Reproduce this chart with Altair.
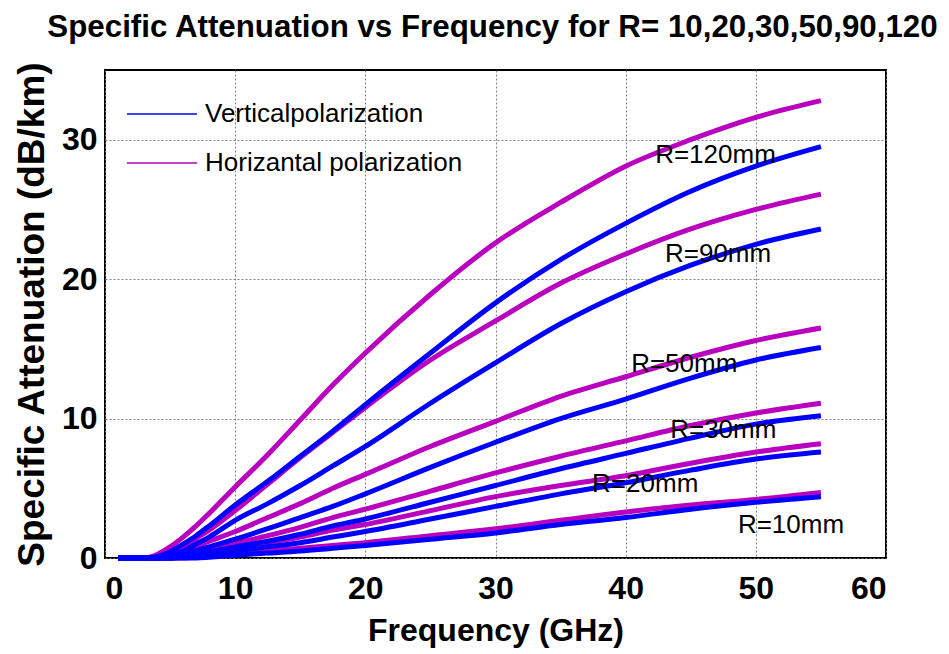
import altair as alt
import pandas as pd

# Frequency samples (GHz)
freq = [1, 3, 4, 5, 6, 7, 8, 10, 12.5, 15, 17.5, 20, 25, 30, 35, 40, 45, 50, 55]

# Specific attenuation (dB/km), horizontal polarization, per rain rate
h120 = [0, 0, 0.25, 0.8, 1.5, 2.3, 3.2, 5.1, 7.4, 9.9, 12.4, 14.7, 18.9, 22.6, 25.5, 28.1, 30.0, 31.6, 32.8]
h90 = [0, 0, 0.05, 0.35, 0.8, 1.4, 2.0, 3.4, 5.3, 7.2, 9.0, 10.8, 14.2, 17.0, 19.7, 21.8, 23.6, 25.0, 26.1]
h50 = [0, 0, 0, 0.2, 0.5, 0.85, 1.2, 1.9, 2.9, 3.9, 5.0, 6.0, 8.0, 9.8, 11.6, 13.0, 14.4, 15.6, 16.5]
h30 = [0, 0, 0, 0.05, 0.2, 0.4, 0.6, 1.05, 1.6, 2.2, 2.9, 3.5, 4.8, 6.1, 7.3, 8.4, 9.5, 10.4, 11.1]
h20 = [0, 0, 0, 0, 0.1, 0.25, 0.4, 0.7, 1.1, 1.5, 2.0, 2.4, 3.4, 4.4, 5.2, 5.9, 6.8, 7.6, 8.2]
h10 = [0, 0, 0, 0, 0, 0.05, 0.15, 0.3, 0.5, 0.7, 0.9, 1.1, 1.6, 2.1, 2.7, 3.3, 3.8, 4.2, 4.7]

# Specific attenuation (dB/km), vertical polarization, per rain rate
v120 = [0, 0, 0.1, 0.45, 1.0, 1.6, 2.3, 3.8, 5.5, 7.3, 9.1, 11.0, 14.7, 18.3, 21.4, 24.0, 26.3, 28.1, 29.5]
v90 = [0, 0, 0, 0.2, 0.5, 1.0, 1.5, 2.7, 3.9, 5.2, 6.6, 8.0, 11.1, 14.0, 16.8, 19.1, 21.0, 22.5, 23.6]
v50 = [0, 0, 0, 0.1, 0.3, 0.55, 0.8, 1.35, 2.1, 2.9, 3.7, 4.6, 6.5, 8.3, 10.0, 11.4, 12.9, 14.2, 15.1]
v30 = [0, 0, 0, 0, 0.1, 0.3, 0.45, 0.8, 1.2, 1.7, 2.3, 2.8, 4.0, 5.2, 6.4, 7.5, 8.6, 9.6, 10.2]
v20 = [0, 0, 0, 0, 0.05, 0.15, 0.3, 0.5, 0.8, 1.1, 1.5, 1.9, 2.8, 3.7, 4.6, 5.4, 6.3, 7.1, 7.6]
v10 = [0, 0, 0, 0, 0, 0, 0.05, 0.2, 0.35, 0.5, 0.7, 0.9, 1.35, 1.8, 2.4, 2.9, 3.5, 4.0, 4.4]

pol_names = ["Verticalpolarization", "Horizantal polarization"]
pol_colors = ["#0000FF", "#B800BE"]

rain_rates = [120, 90, 50, 30, 20, 10]
horizontal = [h120, h90, h50, h30, h20, h10]
vertical = [v120, v90, v50, v30, v20, v10]

# Curve annotations
label_text = ["R=120mm", "R=90mm", "R=50mm", "R=30mm", "R=20mm", "R=10mm"]
label_x = [46.9, 47.1, 44.5, 47.5, 41.5, 52.7]
label_y = [28.9, 21.8, 13.9, 9.2, 5.3, 2.4]


def long_table(series, pol):
    rows = []
    for r, vals in zip(rain_rates, series):
        for f, a in zip(freq, vals):
            rows.append({"freq": f, "atten": a, "curve": f"{pol}-{r}", "pol": pol})
    return pd.DataFrame(rows)


df_h = long_table(horizontal, pol_names[1])
df_v = long_table(vertical, pol_names[0])
df_lab = pd.DataFrame({"text": label_text, "x": label_x, "y": label_y})

SANS = "Liberation Sans, Arial, sans-serif"

x_scale = alt.Scale(domain=[0, 60], nice=False, zero=False)
y_scale = alt.Scale(domain=[0, 35], nice=False)
color_scale = alt.Scale(domain=pol_names, range=pol_colors)

x_axis = alt.Axis(
    title="Frequency (GHz)", values=[0, 10, 20, 30, 40, 50, 60], format="d",
    ticks=False, labelPadding=15, titlePadding=11, domain=False,
    titleFontSize=32,
)
y_axis = alt.Axis(
    title="Specific Attenuation (dB/km)", values=[0, 10, 20, 30], format="d",
    ticks=False, labelPadding=8, titlePadding=10, domain=False,
    titleFontSize=37,
)

legend = alt.Legend(
    title=None, orient="none", legendX=21, legendY=8,
    symbolType="stroke", symbolStrokeWidth=1.5, symbolSize=4900,
    labelFont=SANS, labelFontSize=26, labelLimit=400,
    labelColor="black", rowPadding=-23, labelOffset=7,
)


def curves(df):
    return alt.Chart(df).mark_line(strokeWidth=5, interpolate="monotone").encode(
        x=alt.X("freq:Q", scale=x_scale, axis=x_axis),
        y=alt.Y("atten:Q", scale=y_scale, axis=y_axis),
        color=alt.Color("pol:N", scale=color_scale, legend=legend),
        detail="curve:N",
    )


labels = alt.Chart(df_lab).mark_text(
    font=SANS, fontSize=26, color="black",
).encode(
    x=alt.X("x:Q", scale=x_scale),
    y=alt.Y("y:Q", scale=y_scale),
    text="text:N",
)

chart = (
    alt.layer(curves(df_h), curves(df_v), labels)
    .properties(
        width=781, height=488,
        autosize=alt.AutoSizeParams(type="none"),
        padding={"left": 105, "top": 70, "right": 63, "bottom": 96},
        title=alt.TitleParams(
            "Specific Attenuation vs Frequency for R= 10,20,30,50,90,120",
            font=SANS, fontSize=31.3, fontWeight="bold", color="black",
            anchor="middle", offset=18, dx=-3,
        ),
    )
    .configure_view(stroke="black", strokeWidth=2)
    .configure_axis(
        labelFont=SANS, labelFontSize=32, labelFontWeight="bold",
        labelColor="black", titleFont=SANS,
        titleFontWeight="bold", titleColor="black",
        grid=True, gridColor="#777777", gridDash=[2, 2], gridWidth=1,
        gridOpacity=0.9,
    )
)

chart.save("out.html", embed_options={"renderer": "svg", "actions": False})
